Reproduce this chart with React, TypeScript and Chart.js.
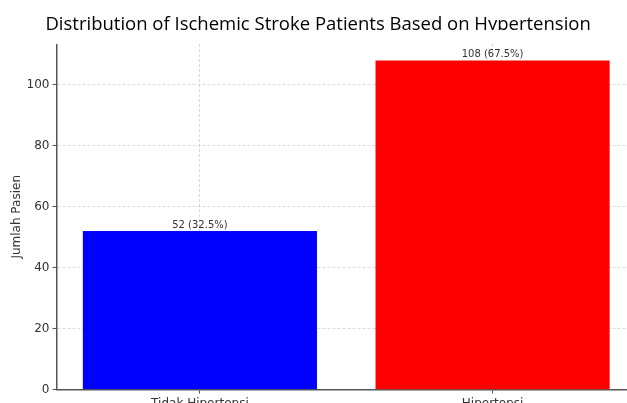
import { useEffect, useRef } from "react";
import { Chart, registerables } from "chart.js";

Chart.register(...registerables);

const categories = ["Tidak Hipertensi", "Hipertensi"];
const patientCounts = [52, 108];
const barColors = ["#0000ff", "#ff0000"];
const yTickValues = [0, 20, 40, 60, 80, 100];
const chartTitle = "Distribution of Ischemic Stroke Patients Based on Hypertension";
const yAxisTitle = "Jumlah Pasien";

export default function App() {
  const ref = useRef<HTMLCanvasElement>(null);

  useEffect(() => {
    document.body.style.margin = "0";
    const total = patientCounts.reduce((a, b) => a + b, 0);
    const barLabels = patientCounts.map(
      (v) => `${v} (${((v / total) * 100).toFixed(1)}%)`
    );
    const yMax = Math.max(...patientCounts) * 1.05;
    const barWidth = 0.8;
    const xMargin = (categories.length - 1 + barWidth) * 0.05;
    const xMin = -barWidth / 2 - xMargin;
    const xMax = categories.length - 1 + barWidth / 2 + xMargin;

    const barLabelPlugin = {
      id: "barLabels",
      afterDatasetsDraw(chart: any) {
        const ctx = chart.ctx;
        const meta = chart.getDatasetMeta(0);
        ctx.save();
        ctx.font = '10px "DejaVu Sans"';
        ctx.fillStyle = "#333333";
        ctx.textAlign = "center";
        ctx.textBaseline = "alphabetic";
        meta.data.forEach((bar: any, i: number) => {
          ctx.fillText(barLabels[i], bar.x, bar.y - 3);
        });
        ctx.restore();
      },
    };

    const titleClipPlugin = {
      id: "titleClip",
      beforeDatasetsDraw(chart: any) {
        const ctx = chart.ctx;
        const top = chart.chartArea.top;
        ctx.save();
        ctx.fillStyle = "#ffffff";
        ctx.fillRect(0, top - 14, chart.width, 14);
        ctx.restore();
      },
    };

    const gridColor = "rgba(170,170,170,0.55)";

    const chart = new Chart(ref.current!, {
      type: "bar",
      data: {
        datasets: [
          {
            data: patientCounts.map((v, i) => ({ x: i, y: v })),
            backgroundColor: barColors,
            barPercentage: barWidth,
            categoryPercentage: 1,
          },
        ],
      },
      options: {
        responsive: false,
        animation: false,
        devicePixelRatio: 1,
        layout: { padding: { left: 0.2, right: 6, top: 0, bottom: 3 } },
        plugins: {
          legend: { display: false },
          tooltip: { enabled: false },
          title: {
            display: true,
            text: chartTitle,
            color: "#000000",
            font: { family: "Open Sans", size: 18.5, weight: "normal" },
            padding: { top: 14, bottom: 7.8 },
          },
        },
        scales: {
          x: {
            type: "linear",
            min: xMin,
            max: xMax,
            offset: false,
            z: 1,
            afterBuildTicks: (axis: any) => {
              axis.ticks = categories.map((_, i) => ({ value: i }));
            },
            ticks: {
              callback: (_v: any, i: number) => categories[i],
              font: { family: "DejaVu Sans", size: 12 },
              color: "#333333",
              padding: 3,
              maxRotation: 0,
              autoSkip: false,
            },
            grid: {
              offset: false,
              color: gridColor,
              lineWidth: 0.8,
              tickLength: 4,
              tickColor: "#555555",
              tickWidth: 1,
            },
            border: { display: true, color: "#555555", width: 1.5, dash: [3, 2] },
          },
          y: {
            type: "linear",
            min: 0,
            max: yMax,
            z: 1,
            afterBuildTicks: (axis: any) => {
              axis.ticks = yTickValues.map((v) => ({ value: v }));
            },
            ticks: {
              font: { family: "DejaVu Sans", size: 12 },
              color: "#333333",
              padding: 3,
            },
            grid: {
              color: gridColor,
              lineWidth: 0.8,
              tickLength: 4,
              tickColor: "#555555",
              tickWidth: 1,
            },
            border: { display: true, color: "#555555", width: 1.5, dash: [3, 2] },
            title: {
              display: true,
              text: yAxisTitle,
              color: "#333333",
              font: { family: "DejaVu Sans", size: 12 },
              padding: { top: 9, bottom: 0 },
            },
          },
        },
      },
      plugins: [barLabelPlugin, titleClipPlugin],
    });
    return () => chart.destroy();
  }, []);

  return (
    <div style={{ width: 627, height: 403, overflow: "hidden", background: "#ffffff" }}>
      <canvas
        ref={ref}
        width={642}
        height={417}
        style={{ display: "block", width: 642, height: 417 }}
      />
    </div>
  );
}
